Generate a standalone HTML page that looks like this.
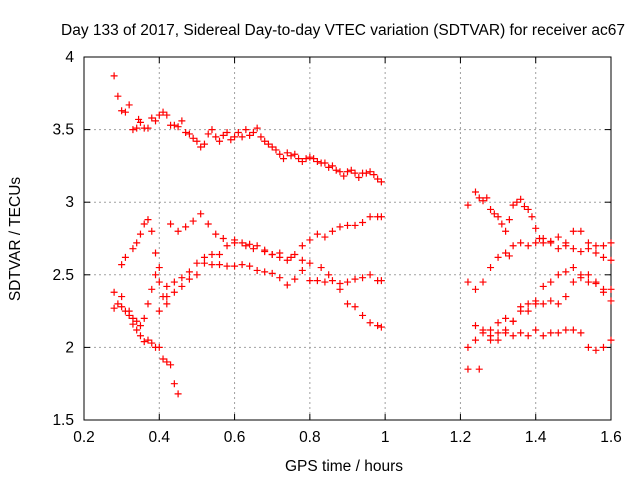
<!DOCTYPE html>
<html><head><meta charset="utf-8"><style>
body{margin:0;background:#fff;}
svg text{font-family:"Liberation Sans",sans-serif;font-size:15.5px;fill:#000;}
</style></head><body>
<svg id="chart" width="640" height="480">
<rect width="640" height="480" fill="#fff"/>
<g id="grid"></g>
<g id="axes"></g>
<g id="points"></g>
<text x="343" y="35" text-anchor="middle">Day 133 of 2017, Sidereal Day-to-day VTEC variation (SDTVAR) for receiver ac67</text>
<text x="344" y="471" text-anchor="middle">GPS time / hours</text>
<text transform="translate(20,239) rotate(-90)" text-anchor="middle">SDTVAR / TECUs</text>
</svg>
<script>
const xTicks=[0.2,0.4,0.6,0.8,1,1.2,1.4,1.6];
const xTickLabels=["0.2","0.4","0.6","0.8","1","1.2","1.4","1.6"];
const yTicks=[1.5,2,2.5,3,3.5,4];
const yTickLabels=["1.5","2","2.5","3","3.5","4"];
const trackA=[[0.28,3.87],[0.29,3.73],[0.30,3.63],[0.31,3.62],[0.32,3.67],[0.33,3.50],[0.34,3.51],[0.345,3.57],[0.35,3.55],[0.36,3.51],[0.37,3.51],[0.38,3.58],[0.39,3.56],[0.40,3.60],[0.41,3.62],[0.42,3.60],[0.43,3.53],[0.44,3.53],[0.45,3.52],[0.46,3.56],[0.47,3.48],[0.48,3.47],[0.49,3.44],[0.50,3.42],[0.51,3.38],[0.52,3.40],[0.53,3.47],[0.54,3.50],[0.55,3.45],[0.56,3.42],[0.57,3.46],[0.58,3.48],[0.59,3.43],[0.60,3.45],[0.61,3.48],[0.62,3.45],[0.63,3.50],[0.64,3.46],[0.65,3.48],[0.66,3.51],[0.67,3.45],[0.68,3.42],[0.69,3.40],[0.70,3.38],[0.71,3.36],[0.72,3.33],[0.73,3.30],[0.74,3.34],[0.75,3.32],[0.76,3.33],[0.77,3.30],[0.78,3.28],[0.79,3.30],[0.80,3.31],[0.81,3.30],[0.82,3.28],[0.83,3.27],[0.84,3.27],[0.85,3.24],[0.86,3.25],[0.87,3.22],[0.88,3.21],[0.89,3.18],[0.90,3.21],[0.91,3.22],[0.92,3.20],[0.93,3.17],[0.94,3.20],[0.95,3.20],[0.96,3.21],[0.97,3.19],[0.98,3.16],[0.99,3.14]];
const trackB=[[0.30,2.57],[0.31,2.62],[0.33,2.68],[0.34,2.72],[0.35,2.78],[0.36,2.85],[0.37,2.88],[0.38,2.80],[0.39,2.65],[0.40,2.55]];
const trackC=[[0.28,2.27],[0.30,2.28],[0.32,2.25],[0.33,2.16],[0.34,2.12],[0.35,2.08],[0.36,2.04],[0.37,2.05],[0.38,2.03],[0.39,2.00],[0.40,2.00],[0.41,1.92],[0.42,1.90],[0.43,1.88],[0.44,1.75],[0.45,1.68]];
const trackD=[[0.43,2.85],[0.45,2.80],[0.47,2.83],[0.49,2.87],[0.51,2.92],[0.53,2.85],[0.55,2.78],[0.57,2.75],[0.60,2.72],[0.63,2.70],[0.65,2.68],[0.68,2.66],[0.70,2.64],[0.72,2.65],[0.75,2.62],[0.78,2.60],[0.80,2.58],[0.83,2.55],[0.85,2.50],[0.88,2.40],[0.90,2.30],[0.92,2.28],[0.94,2.22],[0.96,2.17],[0.98,2.15],[0.99,2.14]];
const trackE=[[0.40,2.25],[0.42,2.35],[0.44,2.45],[0.46,2.48],[0.48,2.52],[0.50,2.58],[0.52,2.62],[0.54,2.64],[0.56,2.64],[0.58,2.70],[0.60,2.74],[0.62,2.72],[0.64,2.71],[0.66,2.70],[0.68,2.67],[0.70,2.64],[0.72,2.62],[0.74,2.60],[0.76,2.64],[0.78,2.70],[0.80,2.74],[0.82,2.78],[0.84,2.76],[0.86,2.80],[0.88,2.83],[0.90,2.84],[0.92,2.84],[0.94,2.86],[0.96,2.90],[0.98,2.90],[0.99,2.90]];
const trackF=[[0.42,2.42],[0.44,2.38],[0.46,2.42],[0.48,2.47],[0.50,2.50],[0.52,2.58],[0.54,2.57],[0.56,2.57],[0.58,2.56],[0.60,2.56],[0.62,2.57],[0.64,2.56],[0.66,2.53],[0.68,2.52],[0.70,2.51],[0.72,2.48],[0.74,2.43],[0.76,2.47],[0.78,2.53],[0.80,2.46],[0.82,2.46],[0.84,2.45],[0.86,2.46],[0.88,2.44],[0.90,2.45],[0.92,2.47],[0.94,2.48],[0.96,2.50],[0.98,2.46],[0.99,2.46]];
const trackG=[[0.28,2.38],[0.29,2.30],[0.30,2.35],[0.31,2.25],[0.32,2.22],[0.33,2.20],[0.34,2.18],[0.35,2.15],[0.36,2.20],[0.37,2.30],[0.38,2.40],[0.39,2.50],[0.40,2.45],[0.41,2.35],[0.42,2.30]];
const trackH=[[1.22,2.98],[1.24,3.07],[1.25,3.03],[1.26,3.01],[1.27,3.03],[1.28,2.95],[1.29,2.92],[1.30,2.90],[1.31,2.85],[1.32,2.80],[1.33,2.88],[1.34,2.98],[1.35,3.00],[1.36,3.02],[1.37,2.97],[1.38,2.95],[1.39,2.90],[1.40,2.82],[1.41,2.75],[1.42,2.72],[1.44,2.72],[1.46,2.68],[1.48,2.70],[1.50,2.68],[1.52,2.66],[1.54,2.68],[1.56,2.65],[1.58,2.62],[1.60,2.60]];
const trackI=[[1.22,2.45],[1.24,2.40],[1.26,2.45],[1.28,2.55],[1.30,2.62],[1.32,2.65],[1.33,2.63],[1.34,2.70],[1.36,2.72],[1.38,2.70],[1.40,2.72],[1.42,2.75],[1.44,2.73],[1.46,2.76],[1.48,2.72],[1.50,2.80],[1.52,2.80],[1.54,2.72],[1.56,2.70],[1.58,2.70],[1.60,2.72]];
const trackJ=[[1.22,2.00],[1.24,2.05],[1.26,2.10],[1.28,2.12],[1.30,2.17],[1.32,2.20],[1.34,2.18],[1.36,2.25],[1.38,2.30],[1.40,2.32],[1.42,2.42],[1.44,2.45],[1.46,2.50],[1.48,2.52],[1.50,2.55],[1.52,2.48],[1.54,2.45],[1.56,2.44],[1.58,2.38],[1.60,2.32]];
const trackK=[[1.24,2.15],[1.26,2.12],[1.28,2.08],[1.30,2.10],[1.32,2.12],[1.34,2.18],[1.36,2.28],[1.38,2.25],[1.40,2.30],[1.42,2.30],[1.44,2.32],[1.46,2.30],[1.48,2.35],[1.50,2.45],[1.52,2.50],[1.54,2.50],[1.56,2.45],[1.58,2.40],[1.60,2.40]];
const trackL=[[1.22,1.85],[1.25,1.85],[1.28,2.05],[1.30,2.05],[1.32,2.10],[1.34,2.08],[1.36,2.10],[1.38,2.08],[1.40,2.12],[1.42,2.08],[1.44,2.10],[1.46,2.10],[1.48,2.12],[1.50,2.12],[1.52,2.10],[1.54,2.00],[1.56,1.98],[1.58,2.00],[1.60,2.05]];
const tracks=[trackA,trackB,trackC,trackD,trackE,trackF,trackG,trackH,trackI,trackJ,trackK,trackL];

const L=84,R=611,T=57,B=420,X0=0.2,X1=1.6,Y0=1.5,Y1=4;
const sx=v=>L+(v-X0)/(X1-X0)*(R-L);
const sy=v=>B-(v-Y0)/(Y1-Y0)*(B-T);
const NS="http://www.w3.org/2000/svg";
function mk(tag,attrs,parent){const e=document.createElementNS(NS,tag);for(const k in attrs)e.setAttribute(k,attrs[k]);parent.appendChild(e);return e;}
const grid=document.getElementById('grid'),axes=document.getElementById('axes'),pts=document.getElementById('points');
xTicks.forEach((t,i)=>{
  const x=sx(t);
  if(i>0&&i<xTicks.length-1){const g=mk('line',{x1:x,x2:x,y1:T,y2:B,stroke:'#a0a0a0','stroke-dasharray':'2,3'},grid);
  
  }
  mk('line',{x1:x,x2:x,y1:B,y2:B-6,stroke:'#000'},axes);
  mk('line',{x1:x,x2:x,y1:T,y2:T+6,stroke:'#000'},axes);
  const tx=mk('text',{x:x,y:B+22,'text-anchor':'middle'},axes);tx.textContent=xTickLabels[i];
  
  
});
yTicks.forEach((t,i)=>{
  const y=sy(t);
  if(i>0&&i<yTicks.length-1){const g=mk('line',{x1:L,x2:R,y1:y,y2:y,stroke:'#a0a0a0','stroke-dasharray':'2,3'},grid);
  
  }
  mk('line',{x1:L,x2:L+6,y1:y,y2:y,stroke:'#000'},axes);
  mk('line',{x1:R,x2:R-6,y1:y,y2:y,stroke:'#000'},axes);
  const tx=mk('text',{x:L-10,y:y+5,'text-anchor':'end'},axes);tx.textContent=yTickLabels[i];
  
  
});
mk('rect',{x:L,y:T,width:R-L,height:B-T,fill:'none',stroke:'#000'},axes);
tracks.forEach(tr=>tr.forEach(p=>{
  const x=sx(p[0]),y=sy(p[1]);
  const m=mk('path',{d:`M${x-3.5},${y}h7M${x},${y-3.5}v7`,stroke:'#f00','stroke-width':1.2,fill:'none'},pts);
  
  
}));
</script>
</body></html>
